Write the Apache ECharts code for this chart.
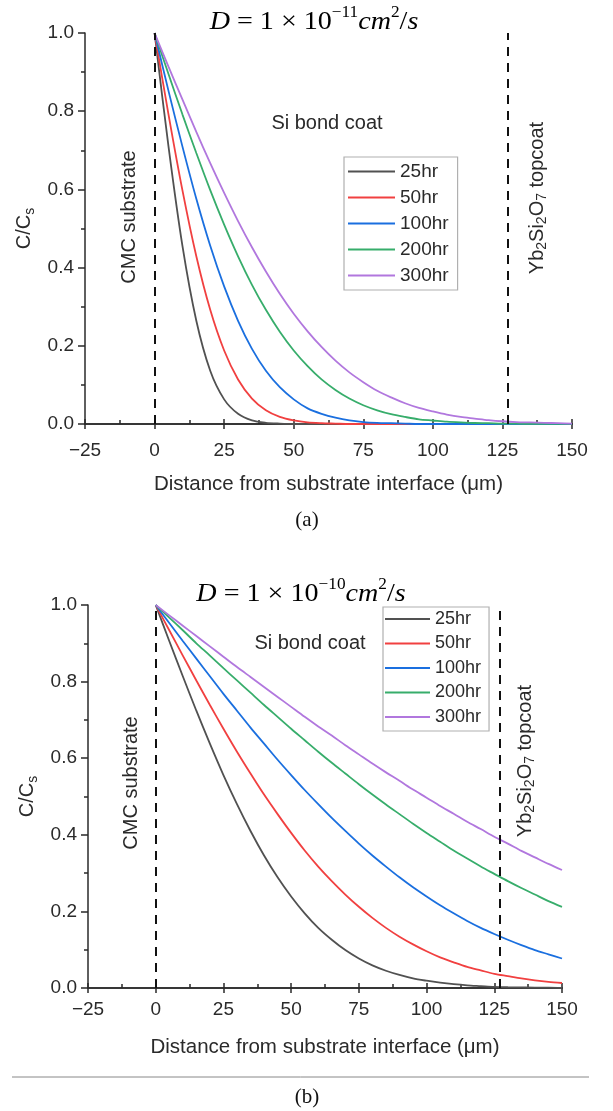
<!DOCTYPE html>
<html><head><meta charset="utf-8">
<script src="https://cdn.jsdelivr.net/npm/echarts@6/dist/echarts.min.js"></script>
<style>html,body{margin:0;padding:0;background:#fff}#c{width:613px;height:1111px}</style>
</head><body><div id="c"></div>
<script>
const seriesNames = ['25hr', '50hr', '100hr', '200hr', '300hr'];
const colors = ['#515151', '#F14040', '#1A6FDF', '#37AD6B', '#B177DE'];
const distance = [0,5,10,15,20,25,30,35,40,45,50,55,60,65,70,75,80,85,90,95,100,105,110,115,120,125,130,135,140,145,150];
const interfaces = [0, 127];

// Panel (a): D = 1e-11 cm2/s
const a25  = [1,0.710,0.456,0.264,0.136,0.063,0.026,0.009,0.003,0.001,0,0,0,0,0,0,0,0,0,0,0,0,0,0,0,0,0,0,0,0,0];
const a50  = [1,0.792,0.598,0.429,0.292,0.188,0.114,0.065,0.035,0.018,0.009,0.004,0.002,0.001,0,0,0,0,0,0,0,0,0,0,0,0,0,0,0,0,0];
const a100 = [1,0.852,0.710,0.576,0.456,0.352,0.264,0.192,0.136,0.094,0.063,0.040,0.026,0.016,0.009,0.005,0.003,0.002,0.001,0,0,0,0,0,0,0,0,0,0,0,0];
const a200 = [1,0.895,0.792,0.693,0.598,0.510,0.429,0.356,0.292,0.236,0.188,0.148,0.114,0.087,0.065,0.048,0.035,0.025,0.018,0.012,0.009,0.006,0.004,0.0025,0.002,0.001,0.001,0.0004,0.0002,0.0001,0.0001];
const a300 = [1,0.914,0.830,0.747,0.667,0.591,0.519,0.452,0.390,0.333,0.282,0.237,0.197,0.162,0.132,0.107,0.085,0.068,0.053,0.041,0.032,0.024,0.018,0.014,0.010,0.007,0.005,0.004,0.003,0.002,0.001];

// Panel (b): D = 1e-10 cm2/s
const b25  = [1,0.906,0.814,0.724,0.638,0.556,0.480,0.410,0.346,0.289,0.239,0.195,0.157,0.126,0.099,0.077,0.059,0.045,0.034,0.025,0.019,0.014,0.010,0.007,0.005,0.003,0.002,0.0015,0.001,0.001,0.0004];
const b50  = [1,0.934,0.868,0.803,0.739,0.677,0.617,0.560,0.505,0.454,0.405,0.359,0.317,0.279,0.244,0.212,0.183,0.157,0.134,0.114,0.096,0.080,0.067,0.055,0.046,0.037,0.031,0.025,0.020,0.016,0.013];
const b100 = [1,0.953,0.906,0.860,0.814,0.768,0.724,0.680,0.638,0.596,0.556,0.517,0.480,0.444,0.410,0.377,0.346,0.317,0.289,0.263,0.239,0.216,0.195,0.175,0.157,0.141,0.126,0.112,0.099,0.088,0.077];
const b200 = [1,0.967,0.934,0.900,0.868,0.835,0.803,0.771,0.739,0.708,0.677,0.647,0.617,0.588,0.560,0.532,0.505,0.479,0.454,0.429,0.405,0.382,0.359,0.338,0.317,0.298,0.279,0.261,0.244,0.227,0.212];
const b300 = [1,0.973,0.946,0.919,0.892,0.865,0.838,0.812,0.786,0.760,0.734,0.708,0.683,0.659,0.634,0.610,0.586,0.563,0.541,0.518,0.497,0.475,0.455,0.434,0.415,0.395,0.377,0.358,0.341,0.324,0.308];

const panelA = [a25, a50, a100, a200, a300];
const panelB = [b25, b50, b100, b200, b300];

const SANS = "'Liberation Sans', Arial, sans-serif";
const SERIF = "'Liberation Serif', 'Times New Roman', serif";
const INK = '#2a2a2a';

function xAxes(gi, labelMargin, nameGap) {
  const base = {gridIndex: gi, type: 'value', min: -25, max: 150, interval: 25, position: 'bottom',
    splitLine: {show: false}, axisLine: {show: true, onZero: false, lineStyle: {color: INK, width: 1.5}}};
  return [
    Object.assign({}, base, {
      axisTick: {show: true, length: 5, lineStyle: {color: INK, width: 1.5}},
      axisLabel: {margin: labelMargin, fontSize: 19, color: INK, fontFamily: SANS,
        formatter: v => (v < 0 ? '\u2212' + Math.abs(v) : '' + v)},
      name: 'Distance from substrate interface (\u03bcm)', nameLocation: 'middle', nameGap: nameGap,
      nameTextStyle: {fontSize: 20.5, color: INK, fontFamily: SANS}
    }),
    Object.assign({}, base, {
      axisTick: {show: true, inside: true, length: 5, lineStyle: {color: INK, width: 1.5}},
      minorTick: {show: true, splitNumber: 2, length: 4, lineStyle: {color: INK, width: 1.5}},
      axisLabel: {show: false}
    })
  ];
}
function yAxis(gi) {
  return {gridIndex: gi, type: 'value', min: 0, max: 1, interval: 0.2,
    splitLine: {show: false},
    axisLine: {show: true, onZero: false, lineStyle: {color: INK, width: 1.5}},
    axisTick: {show: true, length: 7, lineStyle: {color: INK, width: 1.5}},
    minorTick: {show: true, splitNumber: 2, length: 4, lineStyle: {color: INK, width: 1.5}},
    axisLabel: {margin: 11, fontSize: 19, color: INK, fontFamily: SANS, formatter: v => v.toFixed(1)},
    name: 'C/C{sub|s}', nameLocation: 'middle', nameGap: 40, nameRotate: 90,
    nameTextStyle: {fontSize: 20, color: INK, fontFamily: SANS, lineHeight: 24,
      rich: {sub: {fontSize: 14, fontFamily: SANS, color: INK, verticalAlign: 'bottom', lineHeight: 10}}}
  };
}

const series = [];
[panelA, panelB].forEach((panel, pi) => {
  panel.forEach((vals, si) => {
    const s = {
      name: seriesNames[si], type: 'line', xAxisIndex: pi * 2, yAxisIndex: pi,
      data: distance.map((x, i) => [x, vals[i]]),
      showSymbol: false, smooth: 0.3,
      lineStyle: {color: colors[si], width: 1.8}, itemStyle: {color: colors[si]},
      z: 3
    };
    if (si === 0) {
      s.markLine = {silent: true, symbol: 'none', animation: false,
        label: {show: false},
        lineStyle: {color: '#111', width: 2, type: [9, 7]},
        data: interfaces.map(v => ({xAxis: v}))};
    }
    series.push(s);
  });
});

function legend(left, top, fs, gap, iw, pad) {
  return {orient: 'vertical', left: left, top: top, data: seriesNames,
    icon: 'rect', itemWidth: iw, itemHeight: 2, itemGap: gap,
    padding: pad, borderColor: '#b0b0b0', borderWidth: 1.2,
    textStyle: {fontSize: fs, lineHeight: fs, color: INK, fontFamily: SANS},
    selectedMode: false};
}

const titleRich = {
  i: {fontFamily: SERIF, fontStyle: 'italic', fontSize: 26, lineHeight: 30, verticalAlign: 'bottom', color: '#111'},
  n: {fontFamily: SERIF, fontSize: 26, lineHeight: 30, verticalAlign: 'bottom', color: '#111'},
  sup: {fontFamily: SERIF, fontSize: 16, lineHeight: 14, verticalAlign: 'top', color: '#111'}
};
function titleText(x, y, expo) {
  return {type: 'text', x: x, y: y, scaleX: 1.08, style: {
    text: '{i|D}{n| = 1 \u00d7 10}{sup|\u2212' + expo + '}{i|cm}{sup|2}{n|/}{i|s}',
    rich: titleRich, align: 'center', verticalAlign: 'middle'}};
}
function plain(x, y, txt, rot) {
  return {type: 'text', x: x, y: y, rotation: rot || 0, style: {
    text: txt, fontSize: 20, fontFamily: SANS, fill: INK, align: 'center', verticalAlign: 'middle'}};
}
function topcoat(x, y) {
  return {type: 'text', x: x, y: y, rotation: Math.PI / 2, style: {
    text: 'Yb{s|2}Si{s|2}O{s|7} topcoat', fontSize: 20, fontFamily: SANS, fill: INK,
    lineHeight: 24, align: 'center', verticalAlign: 'middle',
    rich: {s: {fontSize: 14, fontFamily: SANS, fill: INK, color: INK, verticalAlign: 'bottom', lineHeight: 10}}}};
}

const option = {
  animation: false,
  backgroundColor: '#fff',
  grid: [
    {left: 85, top: 33, width: 487, height: 391},
    {left: 88, top: 605, width: 474, height: 383}
  ],
  xAxis: [].concat(xAxes(0, 17, 50), xAxes(1, 12, 49)),
  yAxis: [yAxis(0), yAxis(1)],
  legend: [
    legend(344, 157, 19, 7, 47, [5, 9, 5, 4]),
    legend(383, 607, 18, 6.5, 45, [3, 8, 5, 2])
  ],
  series: series,
  graphic: [
    titleText(314, 20, '11'),
    titleText(301, 592, '10'),
    plain(327, 123, 'Si bond coat'),
    plain(310, 643, 'Si bond coat'),
    plain(129, 217, 'CMC substrate', Math.PI / 2),
    plain(131, 783, 'CMC substrate', Math.PI / 2),
    topcoat(537, 198),
    topcoat(525, 761),
    {type: 'text', x: 307, y: 520, style: {text: '(a)', fontSize: 21, fontFamily: SERIF, fill: '#111', align: 'center', verticalAlign: 'middle'}},
    {type: 'text', x: 307, y: 1097, style: {text: '(b)', fontSize: 21, fontFamily: SERIF, fill: '#111', align: 'center', verticalAlign: 'middle'}},
    {type: 'line', shape: {x1: 12, y1: 1077, x2: 589, y2: 1077}, style: {stroke: '#888', lineWidth: 1}}
  ]
};
const chart = echarts.init(document.getElementById('c'), null, {renderer: 'canvas'});
chart.setOption(option);
</script></body></html>
